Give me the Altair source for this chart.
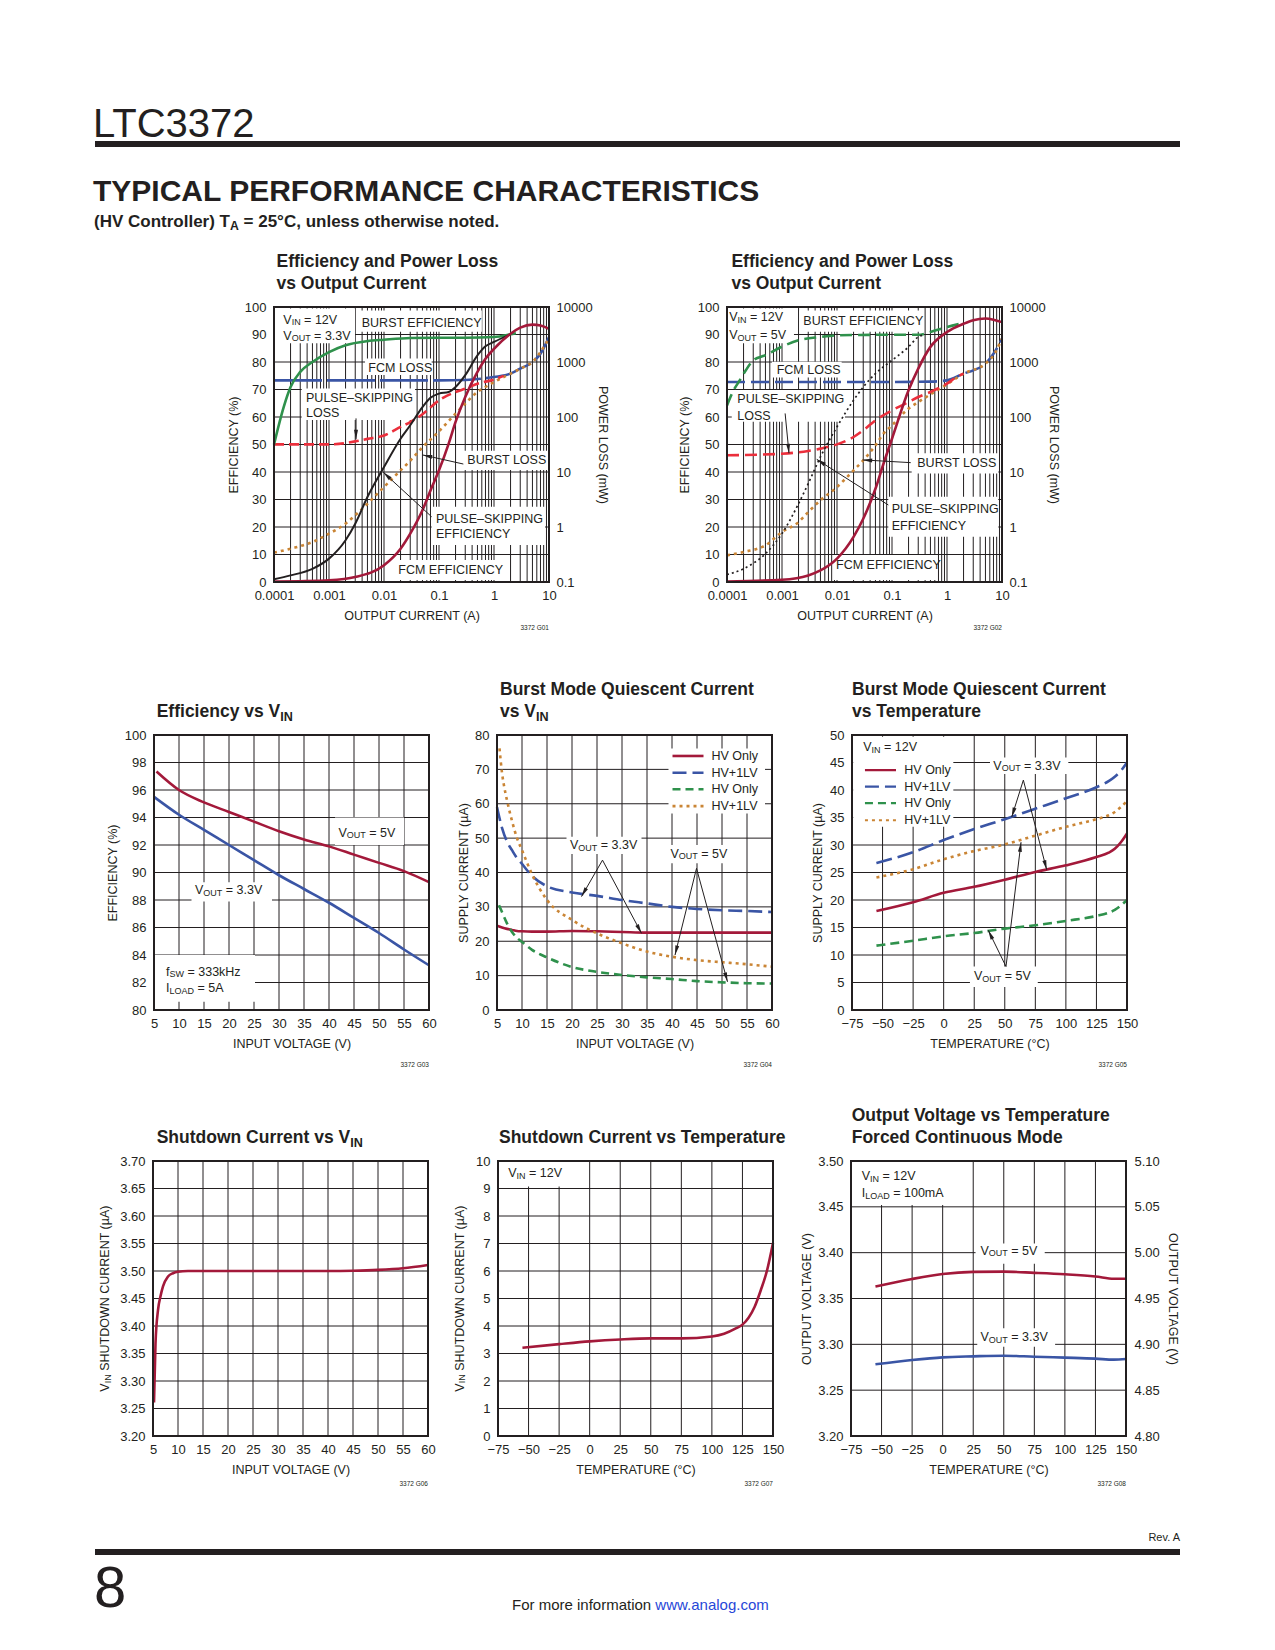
import math
import altair as alt
import pandas as pd

# =============================== DATA ===============================
# G01  Efficiency and Power Loss vs Output Current, VIN=12V, VOUT=3.3V
g01_fcm_eff_i = [0.0001, 0.0003, 0.001, 0.003, 0.01, 0.02, 0.03, 0.05, 0.07, 0.1, 0.15, 0.2, 0.3, 0.5, 0.7, 1, 2, 3, 5, 7, 10]
g01_fcm_eff = [0.2, 0.3, 0.6, 1.8, 6.1, 12.1, 17.6, 26.1, 33.3, 40.6, 50.3, 58.2, 67.3, 76.4, 81.2, 84.8, 90.3, 92.5, 93.6, 93.3, 92.1]
g01_ps_eff_i = [0.0001, 0.0002, 0.0005, 0.001, 0.002, 0.003, 0.005, 0.01, 0.02, 0.03, 0.05, 0.07, 0.1, 0.15, 0.2, 0.3, 0.5, 0.7, 1, 2]
g01_ps_eff = [1.0, 2.4, 4.8, 8.5, 15.2, 21.2, 30.9, 41.8, 52.1, 57.0, 63.6, 67.0, 68.5, 69.1, 70.9, 75.2, 82.4, 85.7, 87.3, 90.1]
g01_burst_eff_i = [0.0001, 0.00015, 0.0002, 0.0003, 0.0005, 0.001, 0.002, 0.005, 0.01, 0.03, 0.1, 0.3, 1, 2, 2.5]
g01_burst_eff = [50.0, 63.6, 70.9, 76.4, 80.0, 83.6, 86.1, 87.6, 88.1, 88.7, 88.8, 88.8, 89.1, 90.1, 90.5]
g01_fcm_loss_i = [0.0001, 0.01, 0.1, 0.3, 0.5, 1, 2, 3, 5, 7, 10]
g01_fcm_loss = [464, 464, 464, 470, 490, 533, 614, 756, 1000, 1413, 2850]
g01_ps_loss_i = [0.0001, 0.001, 0.003, 0.005, 0.01, 0.02, 0.03, 0.05, 0.1, 0.2, 0.3, 0.5, 1, 1.5]
g01_ps_loss = [31.8, 31.8, 36, 40, 46, 66, 81, 112, 201, 285, 327, 404, 478, 560]
g01_burst_loss_i = [0.0001, 0.0002, 0.0005, 0.001, 0.002, 0.003, 0.005, 0.01, 0.02, 0.03, 0.05, 0.1, 0.2, 0.3, 0.5, 0.7, 1, 2, 3, 5, 10]
g01_burst_loss = [0.341, 0.404, 0.533, 0.757, 1.15, 1.63, 2.65, 5.34, 10.7, 16, 28, 55, 115, 175, 285, 351, 433, 614, 756, 1000, 2700]

# G02  Efficiency and Power Loss vs Output Current, VIN=12V, VOUT=5V
g02_fcm_eff_i = [0.0001, 0.001, 0.003, 0.005, 0.01, 0.02, 0.03, 0.05, 0.07, 0.1, 0.2, 0.3, 0.5, 1, 2, 3, 5, 7, 10]
g02_fcm_eff = [0.2, 0.8, 2.4, 4.2, 8.5, 16.4, 23.0, 33.9, 43.0, 52.1, 69.7, 77.6, 85.5, 90.9, 93.9, 95.2, 95.8, 95.4, 94.5]
g02_burst_eff_i = [0.0001, 0.00013, 0.00017, 0.00022, 0.0003, 0.0005, 0.001, 0.002, 0.005, 0.01, 0.1, 0.3, 0.5, 1, 2]
g02_burst_eff = [64.2, 69.5, 73.3, 77.0, 80.6, 82.5, 85.6, 87.9, 89.1, 89.7, 89.9, 89.9, 90.9, 92.7, 94.2]
g02_ps_eff_i = [0.0001, 0.0002, 0.0005, 0.001, 0.002, 0.003, 0.005, 0.01, 0.02, 0.03, 0.05, 0.1, 0.2, 0.3, 0.4]
g02_ps_eff = [2.7, 4.8, 10.3, 17.6, 28.5, 35.8, 45.5, 56.4, 66.1, 70.9, 75.8, 80.6, 85.5, 89.1, 89.9]
g02_fcm_loss_i = [0.0001, 0.1, 0.5, 1, 2, 3, 5, 7, 10]
g02_fcm_loss = [433, 433, 440, 464, 614, 705, 933, 1413, 2655]
g02_ps_loss_i = [0.0001, 0.001, 0.003, 0.005, 0.01, 0.02, 0.03, 0.05, 0.1, 0.2, 0.3, 0.5, 1, 1.5, 2]
g02_ps_loss = [20.1, 21.5, 24.1, 26.6, 31.8, 43.3, 57.3, 86.9, 132, 187, 231, 285, 404, 533, 614]
g02_burst_loss_i = [0.0001, 0.0002, 0.0005, 0.001, 0.002, 0.003, 0.005, 0.01, 0.02, 0.03, 0.05, 0.07, 0.1, 0.2, 0.3, 0.5, 1, 2, 5, 7, 10]
g02_burst_loss = [0.305, 0.351, 0.464, 0.811, 1.23, 1.87, 3.06, 5.34, 10.7, 16.3, 30.5, 49.8, 70.5, 142, 187, 258, 393, 614, 933, 1330, 2655]

# G03  Efficiency vs VIN
g03_vin_5v = [5.5, 10, 15, 20, 25, 30, 35, 40, 45, 50, 55, 60]
g03_eff_5v = [97.35, 96.0, 95.1, 94.4, 93.7, 93.0, 92.4, 91.9, 91.3, 90.7, 90.1, 89.3]
g03_vin_33v = [5, 10, 15, 20, 25, 30, 35, 40, 45, 50, 55, 60]
g03_eff_33v = [95.5, 94.2, 93.1, 92.0, 90.9, 89.8, 88.8, 87.8, 86.7, 85.6, 84.4, 83.25]

# G04  Burst Mode quiescent current vs VIN
g04_vin = [5, 6, 7, 8, 9, 10, 12, 15, 20, 25, 30, 35, 40, 45, 50, 55, 60]
g04_hv_33 = [24.5, 24.0, 23.6, 23.3, 23.0, 22.9, 22.8, 22.8, 23.0, 22.9, 22.7, 22.5, 22.5, 22.5, 22.5, 22.5, 22.5]
g04_hvlv_33 = [59.0, 53.0, 49.0, 46.5, 44.2, 42.5, 39.0, 36.0, 34.2, 33.2, 32.0, 31.0, 30.0, 29.4, 29.0, 28.8, 28.5]
g04_vin_b = [5.4, 6, 7, 8, 9, 10, 12, 15, 20, 25, 30, 35, 40, 45, 50, 55, 60]
g04_hv_5 = [30.5, 28.5, 25.2, 22.7, 21.0, 19.8, 17.5, 15.3, 12.5, 11.1, 10.2, 9.5, 9.0, 8.4, 8.05, 7.8, 7.7]
g04_vin_c = [5.5, 6, 6.5, 7, 8, 9, 10, 12, 15, 20, 25, 30, 35, 40, 45, 50, 55, 60]
g04_hvlv_5 = [76.1, 69.0, 64.5, 61.0, 55.0, 50.0, 46.5, 39.5, 32.0, 26.2, 22.3, 19.4, 17.0, 15.5, 14.5, 13.9, 13.3, 12.6]

# G05  Burst Mode quiescent current vs temperature
g05_t = [-55, -25, 0, 25, 50, 75, 100, 125, 135, 140, 145, 150]
g05_hv_33 = [18.0, 19.6, 21.3, 22.4, 23.7, 25.1, 26.3, 27.8, 28.6, 29.3, 30.5, 32.1]
g05_hvlv_33 = [26.7, 28.7, 30.9, 32.9, 34.7, 36.6, 38.5, 40.5, 41.6, 42.4, 43.5, 45.0]
g05_hv_5 = [11.7, 12.6, 13.4, 14.0, 14.8, 15.4, 16.2, 17.1, 17.7, 18.2, 19.0, 20.0]
g05_hvlv_5 = [24.1, 25.6, 27.4, 28.9, 30.1, 31.7, 33.3, 34.7, 35.4, 36.0, 36.9, 38.0]

# G06  Shutdown current vs VIN
g06_vin = [5.2, 5.5, 6, 6.5, 7, 8, 9, 10, 12, 15, 20, 30, 40, 45, 50, 55, 60]
g06_iq = [3.261, 3.368, 3.429, 3.454, 3.472, 3.490, 3.496, 3.4986, 3.4999, 3.5, 3.5, 3.5, 3.5, 3.5005, 3.502, 3.505, 3.511]

# G07  Shutdown current vs temperature
g07_t = [-55, -25, 0, 25, 50, 75, 100, 110, 120, 125, 130, 135, 140, 145, 150]
g07_iq = [3.21, 3.34, 3.44, 3.51, 3.55, 3.55, 3.62, 3.72, 3.92, 4.05, 4.3, 4.7, 5.3, 6.0, 7.02]

# G08  Output voltage vs temperature, forced continuous mode
g08_t = [-55, -25, 0, 25, 50, 75, 100, 125, 140, 150]
g08_v5 = [4.963, 4.9713, 4.9767, 4.979, 4.9793, 4.978, 4.9764, 4.974, 4.9716, 4.9716]
g08_v33 = [3.2782, 3.2829, 3.2858, 3.2869, 3.2876, 3.2865, 3.2855, 3.2844, 3.2833, 3.284]

# tick values
log_i_ticks = [0.0001, 0.001, 0.01, 0.1, 1, 10]
loss_ticks = [0.1, 1, 10, 100, 1000, 10000]
eff_ticks = list(range(0, 101, 10))
vin_ticks = list(range(5, 61, 5))
temp_ticks = list(range(-75, 151, 25))
g03_y_ticks = list(range(80, 101, 2))
g04_y_ticks = list(range(0, 81, 10))
g05_y_ticks = list(range(0, 51, 5))
g06_y_ticks = [round(3.20 + 0.05 * k, 2) for k in range(11)]
g07_y_ticks = list(range(0, 11))
g08_y_ticks = [round(3.20 + 0.05 * k, 2) for k in range(7)]
g08_y2_ticks = [round(4.80 + 0.05 * k, 2) for k in range(7)]
log_grid = [k * 10.0 ** e for e in range(-4, 1) for k in range(1, 10)] + [10.0]

# ================================= LAYOUT / STYLE =================================
W, H = 1259, 1634
FONT = "Liberation Sans, Arial, Helvetica, sans-serif"
INK = "#231F20"
DRED = "#A3193A"
BLUE = "#3A55A5"
GREEN = "#2F914C"
ORANGE = "#CA8535"
BRED = "#EB2F3C"
LINK = "#2747D8"
TICK = 13.0      # tick labels
ATITLE = 12.5    # axis titles
ANN = 12.5       # annotations
CTITLE = 17.5    # chart titles
LW = 2.6

PANEL = {
    "c1": dict(x0=274, x1=549, y0=307, y1=582, xt="log", xd=[1e-4, 10], yd=[0, 100], y2t="log", y2d=[0.1, 10000]),
    "c2": dict(x0=727, x1=1002, y0=307, y1=582, xt="log", xd=[1e-4, 10], yd=[0, 100], y2t="log", y2d=[0.1, 10000]),
    "c3": dict(x0=154, x1=429, y0=735, y1=1010, xd=[5, 60], yd=[80, 100]),
    "c4": dict(x0=497, x1=772, y0=735, y1=1010, xd=[5, 60], yd=[0, 80]),
    "c5": dict(x0=852, x1=1127, y0=735, y1=1010, xd=[-75, 150], yd=[0, 50]),
    "c6": dict(x0=153, x1=428, y0=1161, y1=1436, xd=[5, 60], yd=[3.2, 3.7]),
    "c7": dict(x0=498, x1=773, y0=1161, y1=1436, xd=[-75, 150], yd=[0, 10]),
    "c8": dict(x0=851, x1=1126, y0=1161, y1=1436, xd=[-75, 150], yd=[3.2, 3.5], y2t="linear", y2d=[4.8, 5.1]),
}

# glyph widths of Liberation Sans (Arial metrics, 1/1000 em)
_REG = dict(zip("ABCDEFGHIJKLMNOPQRSTUVWXYZ", [667, 667, 722, 722, 667, 611, 778, 722, 278, 500, 667, 556, 833, 722, 778, 667, 778, 722, 667, 611, 722, 667, 944, 667, 667, 611]))
_REG.update(zip("abcdefghijklmnopqrstuvwxyz", [556, 556, 500, 556, 556, 278, 556, 556, 222, 222, 500, 222, 833, 556, 556, 556, 556, 333, 500, 278, 556, 500, 722, 500, 500, 500]))
_BOLD = dict(zip("ABCDEFGHIJKLMNOPQRSTUVWXYZ", [722, 722, 722, 722, 667, 611, 778, 722, 278, 556, 722, 611, 833, 722, 778, 667, 778, 722, 667, 611, 722, 667, 944, 667, 667, 611]))
_BOLD.update(zip("abcdefghijklmnopqrstuvwxyz", [556, 611, 556, 611, 556, 333, 611, 611, 278, 278, 556, 278, 889, 611, 611, 611, 611, 389, 556, 333, 611, 556, 778, 556, 556, 500]))
for _t in (_REG, _BOLD):
    _t.update({" ": 278, "(": 333, ")": 333, "+": 584, ",": 278, "-": 333, ".": 278, "/": 278, "=": 584,
               "%": 889, "°": 400, "–": 556, "µ": 576})
    _t.update({d: 556 for d in "0123456789"})


def tw(s, size, bold=False):
    tab = _BOLD if bold else _REG
    return sum(tab.get(c, 556) for c in s) / 1000.0 * size


def xscale(p):
    P = PANEL[p]
    return alt.Scale(type=P.get("xt", "linear"), domain=P["xd"], range=[P["x0"] - 8, P["x1"] - 8], nice=False, zero=False)


def yscale(p, right=False):
    P = PANEL[p]
    t, d = (P["y2t"], P["y2d"]) if right else ("linear", P["yd"])
    return alt.Scale(type=t, domain=d, range=[P["y1"] - 8, P["y0"] - 8], nice=False, zero=False)


PX = alt.Scale(type="linear", domain=[0, 1275], range=[-8, 1267], nice=False, zero=False)
PY = alt.Scale(type="linear", domain=[0, 1650], range=[-8, 1642], nice=False, zero=False)


def to_px(p, x, y):
    P = PANEL[p]
    if P.get("xt") == "log":
        a, b = math.log10(P["xd"][0]), math.log10(P["xd"][1])
        fx = (math.log10(x) - a) / (b - a)
    else:
        fx = (x - P["xd"][0]) / (P["xd"][1] - P["xd"][0])
    fy = (y - P["yd"][0]) / (P["yd"][1] - P["yd"][0])
    return P["x0"] + fx * (P["x1"] - P["x0"]), P["y1"] - fy * (P["y1"] - P["y0"])


L = []


def rich(scx, scy, x, y, parts, size, bold=False, angle=0, dx0=0.0, dy0=0.0, center=False,
         baseline="middle", color=INK, weight=None):
    if isinstance(parts, str):
        parts = [(parts, False)]
    sub, drop = size * 0.72, size * 0.2
    items = []
    for t, s in parts:
        fs = sub if s else size
        st = t.lstrip(" ")
        items.append((st, s, fs, tw(t[: len(t) - len(st)], fs, bold), tw(st, fs, bold)))
    total = sum(a + b for _, _, _, a, b in items)
    off = -total / 2.0 if center else 0.0
    out = []
    for t, s, fs, lw, w in items:
        off += lw
        kw = dict(align="left", baseline=baseline, font=FONT, fontSize=fs,
                  fontWeight=weight if weight else ("bold" if bold else "normal"),
                  color=color, dx=dx0 + off, dy=dy0 + (drop if s else 0.0))
        if angle:
            kw["angle"] = angle
        df = pd.DataFrame({"x": [x], "y": [y], "t": [t]})
        out.append(alt.Chart(df).mark_text(**kw).encode(
            x=alt.X("x:Q", scale=scx, axis=None), y=alt.Y("y:Q", scale=scy, axis=None), text="t:N"))
        off += w
    return out


def ann(p, x, y, parts, size=ANN):
    L.extend(rich(xscale(p), yscale(p), x, y, parts, size))


def add_line(p, xs, ys, color, width=LW, dash=None, right=False):
    df = pd.DataFrame({"x": xs, "y": ys})
    kw = dict(color=color, strokeWidth=width, interpolate="monotone")
    if dash:
        kw["strokeDash"] = dash
    L.append(alt.Chart(df).mark_line(**kw).encode(
        x=alt.X("x:Q", scale=xscale(p), axis=None), y=alt.Y("y:Q", scale=yscale(p, right), axis=None)))


def add_seg(p, x1, x2, y, color, width=LW, dash=None):
    df = pd.DataFrame({"x": [x1], "x2": [x2], "y": [y]})
    kw = dict(color=color, strokeWidth=width)
    if dash:
        kw["strokeDash"] = dash
    L.append(alt.Chart(df).mark_rule(**kw).encode(
        x=alt.X("x:Q", scale=xscale(p), axis=None), x2="x2:Q", y=alt.Y("y:Q", scale=yscale(p), axis=None)))


def add_grid(p, xv, yv):
    P = PANEL[p]
    dv = pd.DataFrame({"x": xv, "y": [P["yd"][0]] * len(xv), "y2": [P["yd"][1]] * len(xv)})
    L.append(alt.Chart(dv).mark_rule(color=INK, strokeWidth=1).encode(
        x=alt.X("x:Q", scale=xscale(p), axis=None), y=alt.Y("y:Q", scale=yscale(p), axis=None), y2="y2:Q"))
    dh = pd.DataFrame({"y": yv, "x": [P["xd"][0]] * len(yv), "x2": [P["xd"][1]] * len(yv)})
    L.append(alt.Chart(dh).mark_rule(color=INK, strokeWidth=1).encode(
        x=alt.X("x:Q", scale=xscale(p), axis=None), x2="x2:Q", y=alt.Y("y:Q", scale=yscale(p), axis=None)))


def add_boxes(p, boxes):
    df = pd.DataFrame(boxes, columns=["x", "x2", "y", "y2"])
    L.append(alt.Chart(df).mark_rect(color="white").encode(
        x=alt.X("x:Q", scale=xscale(p), axis=None), x2="x2:Q",
        y=alt.Y("y:Q", scale=yscale(p), axis=None), y2="y2:Q"))


ARROW_PATH = "M0,0L-0.42,2L0.42,2Z"


def add_arrow(p, xa, ya, xb, yb):
    df = pd.DataFrame({"x": [xa], "y": [ya], "x2": [xb], "y2": [yb]})
    L.append(alt.Chart(df).mark_rule(color=INK, strokeWidth=1).encode(
        x=alt.X("x:Q", scale=xscale(p), axis=None), x2="x2:Q",
        y=alt.Y("y:Q", scale=yscale(p), axis=None), y2="y2:Q"))
    pa, pb = to_px(p, xa, ya), to_px(p, xb, yb)
    ang = math.degrees(math.atan2(pb[0] - pa[0], -(pb[1] - pa[1]))) % 360
    dh = pd.DataFrame({"x": [xb], "y": [yb]})
    L.append(alt.Chart(dh).mark_point(shape=ARROW_PATH, filled=True, color=INK, size=90, opacity=1,
                                      strokeWidth=0, angle=ang).encode(
        x=alt.X("x:Q", scale=xscale(p), axis=None), y=alt.Y("y:Q", scale=yscale(p), axis=None)))


def _common(lpad):
    return dict(ticks=False, tickSize=0, domain=False, grid=False, labelFont=FONT, labelFontSize=TICK,
                labelColor=INK, labelPadding=lpad, labelFlush=False, labelOverlap=False,
                titleFont=FONT, titleFontSize=ATITLE, titleFontWeight="normal", titleColor=INK, titlePadding=0)


def ax_bottom(p, values, fmt, title, lpad=7, ext=27):
    P = PANEL[p]
    return alt.Axis(orient="bottom", offset=(P["y1"] - 8) - H, values=values, format=fmt, title=title,
                    minExtent=ext, maxExtent=ext, titleBaseline="top", titleAngle=0, **_common(lpad))


def ax_left(p, values, fmt, title, dist=40, lpad=8):
    P = PANEL[p]
    ext = dist - 0.568 * ATITLE
    return alt.Axis(orient="left", offset=-(P["x0"] - 8), values=values, format=fmt, title=title,
                    minExtent=ext, maxExtent=ext, titleBaseline="bottom", titleAngle=270, **_common(lpad))


def ax_right(p, values, fmt, title, dist=52, lpad=7):
    P = PANEL[p]
    ext = dist - 0.568 * ATITLE
    return alt.Axis(orient="right", offset=(P["x1"] - 8) - W, values=values, format=fmt, title=title,
                    minExtent=ext, maxExtent=ext, titleBaseline="bottom", titleAngle=90, **_common(lpad))


def add_frame(p, xaxis, yaxis):
    P = PANEL[p]
    df = pd.DataFrame({"x": [P["xd"][0]], "x2": [P["xd"][1]], "y": [P["yd"][0]], "y2": [P["yd"][1]]})
    L.append(alt.Chart(df).mark_rect(fill="transparent", stroke=INK, strokeWidth=2).encode(
        x=alt.X("x:Q", scale=xscale(p), axis=xaxis), x2="x2:Q",
        y=alt.Y("y:Q", scale=yscale(p), axis=yaxis), y2="y2:Q"))


def add_right_axis(p, yaxis):
    P = PANEL[p]
    df = pd.DataFrame({"x": [P["xd"][0]], "y": [P["y2d"][0]], "y2": [P["y2d"][1]]})
    L.append(alt.Chart(df).mark_rule(strokeOpacity=0).encode(
        x=alt.X("x:Q", scale=xscale(p), axis=None),
        y=alt.Y("y:Q", scale=yscale(p, True), axis=yaxis), y2="y2:Q"))


def add_title(p, lines, dx):
    P = PANEL[p]
    dys = [-40.5, -18.0] if len(lines) == 2 else [-18.0]
    for parts, dy in zip(lines, dys):
        L.extend(rich(xscale(p), yscale(p), P["xd"][0], P["yd"][1], parts, CTITLE, bold=True,
                      dx0=dx, dy0=dy, baseline="alphabetic"))


def add_tag(p, text, dy):
    P = PANEL[p]
    df = pd.DataFrame({"x": [P["xd"][1]], "y": [P["yd"][0]], "t": [text]})
    L.append(alt.Chart(df).mark_text(align="right", baseline="middle", font=FONT, fontSize=6.5, color=INK,
                                     dy=dy).encode(
        x=alt.X("x:Q", scale=xscale(p), axis=None), y=alt.Y("y:Q", scale=yscale(p), axis=None), text="t:N"))


def rot_title(p, parts, dist):
    P = PANEL[p]
    ymid = (P["yd"][0] + P["yd"][1]) / 2.0
    L.extend(rich(xscale(p), yscale(p), P["xd"][0], ymid, parts, ATITLE, angle=270, dy0=-dist, center=True))


VIN = [("V", False), ("IN", True), (" = 12V", False)]
VO33 = [("V", False), ("OUT", True), (" = 3.3V", False)]
VO5 = [("V", False), ("OUT", True), (" = 5V", False)]
T_EFF = ["Efficiency and Power Loss", "vs Output Current"]

# ------------------------------------------------------------------ G01
p = "c1"
add_grid(p, log_grid, eff_ticks)
add_boxes(p, [(1.04e-4, 0.00297, 86.8, 99.5), (0.00341, 0.6, 91.0, 98.7), (0.00452, 0.0736, 75.3, 81.3),
              (3.19e-4, 0.0367, 58.9, 70.4), (0.277, 9.7, 40.7, 47.7), (0.0736, 8.46, 13.5, 27.4),
              (0.01475, 1.285, 0.7, 8.0)])
add_line(p, g01_fcm_loss_i, g01_fcm_loss, BLUE, dash=[48, 5], right=True)
add_line(p, g01_burst_loss_i, g01_burst_loss, ORANGE, dash=[3, 4], right=True)
add_line(p, g01_ps_loss_i, g01_ps_loss, BRED, dash=[10, 5], right=True)
add_line(p, g01_burst_eff_i, g01_burst_eff, GREEN)
add_line(p, g01_ps_eff_i, g01_ps_eff, INK, width=2.0)
add_line(p, g01_fcm_eff_i, g01_fcm_eff, DRED)
add_arrow(p, 0.0031, 59.5, 0.0031, 51.9)
add_arrow(p, 0.277, 42.9, 0.0506, 46.2)
add_arrow(p, 0.0736, 23.7, 0.0097, 39.9)
ann(p, 1.476e-4, 95.3, VIN)
ann(p, 1.476e-4, 89.6, VO33)
ann(p, 0.00394, 94.3, "BURST EFFICIENCY")
ann(p, 0.00519, 77.9, "FCM LOSS")
ann(p, 3.82e-4, 67.0, "PULSE–SKIPPING")
ann(p, 3.82e-4, 61.3, "LOSS")
ann(p, 0.327, 44.4, "BURST LOSS")
ann(p, 0.0881, 23.0, "PULSE–SKIPPING")
ann(p, 0.0881, 17.3, "EFFICIENCY")
ann(p, 0.0182, 4.4, "FCM EFFICIENCY")
add_frame(p, ax_bottom(p, log_i_ticks, ".4~f", "OUTPUT CURRENT (A)"), ax_left(p, eff_ticks, "d", "EFFICIENCY (%)", dist=41))
add_right_axis(p, ax_right(p, loss_ticks, ".1~f", "POWER LOSS (mW)", dist=53.5))
add_title(p, T_EFF, 2.5)
add_tag(p, "3372 G01", 46)

# ------------------------------------------------------------------ G02
p = "c2"
add_grid(p, log_grid, eff_ticks)
add_boxes(p, [(1.02e-4, 0.00165, 86.8, 99.5), (0.00207, 0.36, 91.0, 98.7), (6.58e-4, 0.01216, 74.4, 80.1),
              (1.22e-4, 0.01397, 58.3, 69.8), (0.228, 8.57, 39.5, 46.8), (0.0857, 8.57, 16.5, 31.0),
              (0.00857, 0.651, 0.7, 9.8)])
add_line(p, g02_fcm_loss_i, g02_fcm_loss, BLUE, dash=[18, 6], right=True)
add_line(p, g02_burst_loss_i, g02_burst_loss, ORANGE, dash=[3, 4], right=True)
add_line(p, g02_ps_loss_i, g02_ps_loss, BRED, dash=[12, 6], right=True)
add_line(p, g02_burst_eff_i, g02_burst_eff, GREEN, dash=[12, 6])
add_line(p, g02_ps_eff_i, g02_ps_eff, INK, width=1.7, dash=[2, 3])
add_line(p, g02_fcm_eff_i, g02_fcm_eff, DRED)
add_arrow(p, 0.00114, 61.3, 0.00134, 46.8)
add_arrow(p, 0.219, 43.4, 0.0293, 44.4)
add_arrow(p, 0.0857, 28.0, 0.00428, 44.6)
ann(p, 1.1e-4, 96.3, VIN)
ann(p, 1.1e-4, 89.8, VO5)
ann(p, 0.00244, 95.0, "BURST EFFICIENCY")
ann(p, 8.0e-4, 77.1, "FCM LOSS")
ann(p, 1.54e-4, 66.7, "PULSE–SKIPPING")
ann(p, 1.54e-4, 60.5, "LOSS")
ann(p, 0.288, 43.2, "BURST LOSS")
ann(p, 0.0986, 26.4, "PULSE–SKIPPING")
ann(p, 0.0986, 20.4, "EFFICIENCY")
ann(p, 0.0096, 6.2, "FCM EFFICIENCY")
add_frame(p, ax_bottom(p, log_i_ticks, ".4~f", "OUTPUT CURRENT (A)"), ax_left(p, eff_ticks, "d", "EFFICIENCY (%)", dist=42.3))
add_right_axis(p, ax_right(p, loss_ticks, ".1~f", "POWER LOSS (mW)", dist=51.6))
add_title(p, T_EFF, 4.4)
add_tag(p, "3372 G02", 46)

# ------------------------------------------------------------------ G03
p = "c3"
add_grid(p, vin_ticks, g03_y_ticks)
add_boxes(p, [(41.2, 55.0, 92.0, 94.0), (12.5, 28.6, 87.9, 89.3), (5.0, 25.2, 80.6, 84.0)])
add_line(p, g03_vin_5v, g03_eff_5v, DRED)
add_line(p, g03_vin_33v, g03_eff_33v, BLUE)
ann(p, 41.9, 92.9, VO5)
ann(p, 13.2, 88.7, VO33)
ann(p, 7.4, 82.8, [("f", False), ("SW", True), (" = 333kHz", False)])
ann(p, 7.4, 81.6, [("I", False), ("LOAD", True), (" = 5A", False)])
add_frame(p, ax_bottom(p, vin_ticks, "d", "INPUT VOLTAGE (V)"), ax_left(p, g03_y_ticks, "d", "EFFICIENCY (%)", dist=41.6))
add_title(p, [[("Efficiency vs V", False), ("IN", True)]], 2.7)
add_tag(p, "3372 G03", 55)

# ------------------------------------------------------------------ G04
p = "c4"
add_grid(p, vin_ticks, g04_y_ticks)
add_boxes(p, [(18.9, 33.9, 45.4, 50.4), (38.9, 51.9, 42.7, 48.0), (39.3, 58.6, 57.2, 76.1)])
add_line(p, g04_vin, g04_hv_33, DRED)
add_line(p, g04_vin, g04_hvlv_33, BLUE, dash=[14, 6])
add_line(p, g04_vin_b, g04_hv_5, GREEN, dash=[8, 5])
add_line(p, g04_vin_c, g04_hvlv_5, ORANGE, dash=[3, 4])
add_arrow(p, 26.1, 43.6, 21.9, 33.0)
add_arrow(p, 26.1, 43.6, 33.9, 22.3)
add_arrow(p, 44.9, 41.2, 40.6, 16.0)
add_arrow(p, 44.9, 41.2, 51.1, 8.2)
ann(p, 19.6, 48.0, VO33)
ann(p, 39.7, 45.4, VO5)
for (yy, col, dsh, lab) in [(73.9, DRED, None, "HV Only"), (69.0, BLUE, [14, 6], "HV+1LV"),
                            (64.2, GREEN, [8, 5], "HV Only"), (59.3, ORANGE, [3, 4], "HV+1LV")]:
    add_seg(p, 40.1, 46.3, yy, col, dash=dsh)
    ann(p, 47.9, yy, lab)
add_frame(p, ax_bottom(p, vin_ticks, "d", "INPUT VOLTAGE (V)"), ax_left(p, g04_y_ticks, "d", "SUPPLY CURRENT (µA)", dist=34))
add_title(p, ["Burst Mode Quiescent Current", [("vs V", False), ("IN", True)]], 3.0)
add_tag(p, "3372 G04", 55)

# ------------------------------------------------------------------ G05
p = "c5"
add_grid(p, temp_ticks, g05_y_ticks)
add_boxes(p, [(-74.0, 7.9, 33.3, 49.7), (37.9, 102.0, 42.9, 45.9), (21.5, 77.0, 4.2, 7.9)])
add_line(p, g05_t, g05_hv_33, DRED)
add_line(p, g05_t, g05_hvlv_33, BLUE, dash=[16, 6])
add_line(p, g05_t, g05_hv_5, GREEN, dash=[9, 5])
add_line(p, g05_t, g05_hvlv_5, ORANGE, dash=[3, 4])
add_arrow(p, 65.2, 41.8, 55.7, 35.1)
add_arrow(p, 65.2, 41.8, 84.3, 25.5)
add_arrow(p, 51.0, 7.9, 63.3, 30.5)
add_arrow(p, 51.0, 7.9, 36.5, 14.5)
ann(p, -65.8, 47.8, VIN)
for (yy, col, dsh, lab) in [(43.6, DRED, None, "HV Only"), (40.6, BLUE, [14, 6], "HV+1LV"),
                            (37.6, GREEN, [8, 5], "HV Only"), (34.5, ORANGE, [3, 4], "HV+1LV")]:
    add_seg(p, -64.4, -39.0, yy, col, width=2.2, dash=dsh)
    ann(p, -32.2, yy, lab)
ann(p, 40.6, 44.4, VO33)
ann(p, 24.8, 6.1, VO5)
add_frame(p, ax_bottom(p, temp_ticks, "d", "TEMPERATURE (°C)"), ax_left(p, g05_y_ticks, "d", "SUPPLY CURRENT (µA)", dist=34.6))
add_title(p, ["Burst Mode Quiescent Current", "vs Temperature"], 0.0)
add_tag(p, "3372 G05", 55)

# ------------------------------------------------------------------ G06
p = "c6"
add_grid(p, vin_ticks, g06_y_ticks)
add_line(p, g06_vin, g06_iq, DRED)
add_frame(p, ax_bottom(p, vin_ticks, "d", "INPUT VOLTAGE (V)"), ax_left(p, g06_y_ticks, ".2f", None))
rot_title(p, [("V", False), ("IN", True), (" SHUTDOWN CURRENT (µA)", False)], 47.7)
add_title(p, [[("Shutdown Current vs V", False), ("IN", True)]], 3.7)
add_tag(p, "3372 G06", 48)

# ------------------------------------------------------------------ G07
p = "c7"
add_grid(p, temp_ticks, g07_y_ticks)
add_boxes(p, [(-75.0, -13.6, 9.07, 10.0)])
add_line(p, g07_t, g07_iq, DRED)
ann(p, -66.6, 9.55, VIN)
add_frame(p, ax_bottom(p, temp_ticks, "d", "TEMPERATURE (°C)"), ax_left(p, g07_y_ticks, "d", None))
rot_title(p, [("V", False), ("IN", True), (" SHUTDOWN CURRENT (µA)", False)], 38.3)
add_title(p, ["Shutdown Current vs Temperature"], 1.0)
add_tag(p, "3372 G07", 48)

# ------------------------------------------------------------------ G08
p = "c8"
add_grid(p, temp_ticks, g08_y_ticks)
add_boxes(p, [(-74.0, 7.6, 3.452, 3.50), (26.9, 83.5, 3.388, 3.410), (28.3, 92.0, 3.2974, 3.3175)])
add_line(p, g08_t, g08_v5, DRED, right=True)
add_line(p, g08_t, g08_v33, BLUE)
ann(p, -66.2, 3.4836, VIN)
ann(p, -66.2, 3.4648, [("I", False), ("LOAD", True), (" = 100mA", False)])
ann(p, 30.9, 3.4021, VO5)
ann(p, 30.9, 3.3077, VO33)
add_frame(p, ax_bottom(p, temp_ticks, "d", "TEMPERATURE (°C)"), ax_left(p, g08_y_ticks, ".2f", "OUTPUT VOLTAGE (V)", dist=45))
add_right_axis(p, ax_right(p, g08_y2_ticks, ".2f", "OUTPUT VOLTAGE (V)", dist=47, lpad=8))
add_title(p, ["Output Voltage vs Temperature", "Forced Continuous Mode"], 0.7)
add_tag(p, "3372 G08", 48)


# ------------------------------------------------------------------ page header / footer
def page_rect(x, x2, y, y2, color=INK):
    df = pd.DataFrame({"x": [x], "x2": [x2], "y": [y], "y2": [y2]})
    L.append(alt.Chart(df).mark_rect(color=color).encode(
        x=alt.X("x:Q", scale=PX, axis=None), x2="x2:Q", y=alt.Y("y:Q", scale=PY, axis=None), y2="y2:Q"))


def ptext(x, y, parts, size, **kw):
    L.extend(rich(PX, PY, x, y, parts, size, baseline="alphabetic", **kw))


ptext(93, 137, "LTC3372", 40, weight=300)
page_rect(95, 1180, 141, 147)
ptext(93, 201, "TYPICAL PERFORMANCE CHARACTERISTICS", 30, bold=True)
ptext(94, 226.5, [("(HV Controller) T", False), ("A", True), (" = 25°C, unless otherwise noted.", False)], 17,
      bold=True)
df_rev = pd.DataFrame({"x": [1180], "y": [1541], "t": ["Rev. A"]})
L.append(alt.Chart(df_rev).mark_text(align="right", baseline="alphabetic", font=FONT, fontSize=11, color=INK).encode(
    x=alt.X("x:Q", scale=PX, axis=None), y=alt.Y("y:Q", scale=PY, axis=None), text="t:N"))
page_rect(95, 1180, 1549, 1555)
ptext(94, 1607, "8", 58, weight=300)
_fm = "For more information "
ptext(512, 1610, _fm, 15)
ptext(512 + tw(_fm, 15), 1610, "www.analog.com", 15, color=LINK)

chart = alt.layer(*L).resolve_scale(x="independent", y="independent").properties(
    width=W, height=H, autosize=alt.AutoSizeParams(type="none"), padding=0
).configure_view(strokeOpacity=0)

chart.save("out.html", embed_options={"renderer": "svg", "actions": False})
